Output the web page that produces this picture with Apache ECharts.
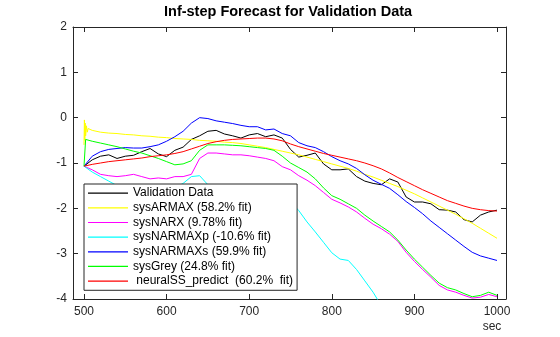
<!DOCTYPE html>
<html><head><meta charset="utf-8">
<script src="https://cdn.jsdelivr.net/npm/echarts@6/dist/echarts.min.js"></script>
<style>html,body{margin:0;padding:0;background:#fff}#c{width:560px;height:337px}</style>
</head><body><div id="c"></div><script>
// time grid (sec)
const t = [500,510,520,530,540,550,560,570,580,590,600,610,620,630,640,650,660,670,680,690,700,710,720,730,740,750,760,770,780,790,800,810,820,830,840,850,860,870,880,890,900,910,920,930,940,950,960,970,980,990,1000];
const xTicks = [500,600,700,800,900,1000];
const yTicks = [-4,-3,-2,-1,0,1,2];

const validation = [-1.07,-0.93,-0.85,-0.82,-0.9,-0.85,-0.83,-0.75,-0.68,-0.8,-0.86,-0.72,-0.65,-0.48,-0.4,-0.3,-0.28,-0.36,-0.4,-0.45,-0.38,-0.35,-0.42,-0.38,-0.45,-0.7,-0.87,-0.83,-0.78,-1.02,-1.15,-1.15,-1.13,-1.3,-1.4,-1.45,-1.48,-1.35,-1.42,-1.75,-1.86,-1.86,-1.9,-2.03,-2.04,-2.08,-2.25,-2.3,-2.15,-2.08,-2.04];
const armax = [-0.6,-0.28,-0.32,-0.34,-0.35,-0.37,-0.38,-0.4,-0.41,-0.43,-0.44,-0.46,-0.47,-0.48,-0.5,-0.51,-0.52,-0.54,-0.55,-0.57,-0.6,-0.63,-0.66,-0.7,-0.74,-0.78,-0.82,-0.87,-0.92,-0.97,-1.02,-1.07,-1.12,-1.18,-1.25,-1.31,-1.38,-1.45,-1.52,-1.6,-1.68,-1.77,-1.86,-1.95,-2.04,-2.13,-2.23,-2.33,-2.44,-2.55,-2.66];
const armaxOnsetT = [500.5,501,501.5,502,503,504,505];
const armaxOnsetV = [-0.05,-0.5,-0.12,-0.4,-0.18,-0.32,-0.24];
const narx = [-1.07,-1.15,-1.25,-1.28,-1.3,-1.28,-1.25,-1.3,-1.35,-1.33,-1.35,-1.3,-1.3,-1.25,-0.9,-0.78,-0.78,-0.8,-0.82,-0.82,-0.84,-0.87,-0.9,-0.95,-1.08,-1.15,-1.28,-1.38,-1.5,-1.65,-1.8,-1.88,-1.97,-2.08,-2.22,-2.35,-2.45,-2.57,-2.73,-2.97,-3.17,-3.35,-3.52,-3.7,-3.8,-3.85,-3.92,-3.98,-3.96,-3.9,-3.95];
const narmaxp = [-1.07,-1.2,-1.3,-1.4,-1.5,-1.58,-1.64,-1.68,-1.66,-1.62,-1.6,-1.55,-1.45,-1.3,-1.28,-1.48,-1.55,-1.56,-1.56,-1.57,-1.58,-1.62,-1.66,-1.72,-1.78,-1.85,-2.05,-2.3,-2.52,-2.75,-2.98,-3.12,-3.15,-3.35,-3.6,-3.85,-4.15,-4.45];
const narmaxs = [-1.07,-0.85,-0.75,-0.7,-0.68,-0.66,-0.67,-0.67,-0.64,-0.6,-0.52,-0.42,-0.3,-0.12,0.0,-0.02,-0.07,-0.1,-0.13,-0.17,-0.2,-0.2,-0.27,-0.25,-0.35,-0.4,-0.55,-0.62,-0.66,-0.75,-0.86,-0.95,-1.02,-1.12,-1.26,-1.38,-1.47,-1.56,-1.7,-1.85,-1.98,-2.12,-2.28,-2.42,-2.56,-2.7,-2.84,-2.97,-3.05,-3.1,-3.15];
const grey = [-1.07,-0.52,-0.56,-0.6,-0.64,-0.69,-0.74,-0.78,-0.84,-0.9,-0.97,-1.04,-1.02,-0.95,-0.72,-0.6,-0.6,-0.6,-0.61,-0.62,-0.64,-0.66,-0.68,-0.72,-0.85,-1.0,-1.1,-1.2,-1.35,-1.55,-1.72,-1.8,-1.9,-2.0,-2.15,-2.28,-2.4,-2.52,-2.7,-2.92,-3.12,-3.3,-3.48,-3.65,-3.75,-3.8,-3.88,-3.95,-3.92,-3.85,-3.92];
const greyOnsetT = [502];
const greyOnsetV = [-0.48];
const neuralSS = [-1.07,-1.03,-1.0,-0.97,-0.95,-0.93,-0.91,-0.89,-0.86,-0.84,-0.82,-0.79,-0.75,-0.69,-0.63,-0.57,-0.53,-0.5,-0.48,-0.47,-0.46,-0.45,-0.45,-0.47,-0.51,-0.58,-0.64,-0.69,-0.74,-0.79,-0.83,-0.87,-0.91,-0.95,-1.0,-1.06,-1.13,-1.22,-1.32,-1.41,-1.5,-1.59,-1.67,-1.75,-1.83,-1.89,-1.95,-2.0,-2.03,-2.05,-2.06];

const names = ['Validation Data','sysARMAX (58.2% fit)','sysNARX (9.78% fit)','sysNARMAXp (-10.6% fit)','sysNARMAXs (59.9% fit)','sysGrey (24.8% fit)',' neuralSS_predict  (60.2%  fit)'];
const colors = ['#000000','#ffff00','#ff00ff','#00ffff','#0000ff','#00ff00','#ff0000'];

function pairs(vals, onT, onV) {
  const p = vals.map((v, i) => [t[i], v]);
  if (onT) { onT.forEach((x, i) => p.push([x, onV[i]])); p.sort((a, b) => a[0] - b[0]); }
  return p;
}
const seriesData = [
  pairs(validation), pairs(armax, armaxOnsetT, armaxOnsetV), pairs(narx), pairs(narmaxp),
  pairs(narmaxs), pairs(grey, greyOnsetT, greyOnsetV), pairs(neuralSS)
];

const FF = '"Liberation Sans", Arial, sans-serif';
const axCol = '#262626';
const chart = echarts.init(document.getElementById('c'), null, {renderer: 'canvas'});
const xBase = {
  type: 'value', min: 486.7, max: 1010.9,
  axisLine: {show: true, onZero: false, lineStyle: {color: axCol, width: 1}},
  axisTick: {show: true, inside: true, length: 5, customValues: xTicks, lineStyle: {color: axCol}},
  splitLine: {show: false}
};
const yBase = {
  type: 'value', min: -4, max: 2, interval: 1,
  axisLine: {show: true, onZero: false, lineStyle: {color: axCol, width: 1}},
  axisTick: {show: true, inside: true, length: 5, lineStyle: {color: axCol}},
  splitLine: {show: false}
};
chart.setOption({
  animation: false,
  backgroundColor: '#ffffff',
  title: {
    text: 'Inf-step Forecast for Validation Data', left: 164, top: 4, padding: 0,
    textStyle: {fontFamily: FF, fontSize: 14.5, fontWeight: 'bold', color: '#000000'}
  },
  grid: {left: 73, top: 27, width: 433, height: 272, containLabel: false},
  legend: {
    orient: 'vertical', left: 84, top: 184, padding: [2, 4, 2, 4],
    icon: 'rect', itemWidth: 40, itemHeight: 1.2, itemGap: 0.33, selectedMode: false,
    backgroundColor: '#ffffff', borderColor: axCol, borderWidth: 1, borderRadius: 0,
    textStyle: {fontFamily: FF, fontSize: 12, color: '#000000', lineHeight: 14.33, padding: [0,0,0,0]},
    data: names
  },
  xAxis: [
    Object.assign({}, xBase, {
      position: 'bottom',
      axisLabel: {show: true, customValues: xTicks, formatter: v => String(v), color: axCol, fontFamily: FF, fontSize: 12, margin: 7},
      name: 'sec', nameLocation: 'end', nameGap: -14,
      nameTextStyle: {fontFamily: FF, fontSize: 12, color: axCol, align: 'center', verticalAlign: 'top', padding: [22, 0, 0, 0]}
    }),
    Object.assign({}, xBase, {position: 'top', axisLabel: {show: false}})
  ],
  yAxis: [
    Object.assign({}, yBase, {
      position: 'left',
      axisLabel: {show: true, color: axCol, fontFamily: FF, fontSize: 12, margin: 6}
    }),
    Object.assign({}, yBase, {position: 'right', axisLabel: {show: false}})
  ],
  series: names.map((n, i) => ({
    name: n, type: 'line', data: seriesData[i], xAxisIndex: 0, yAxisIndex: 0,
    symbol: 'none', showSymbol: false, clip: true,
    lineStyle: {color: colors[i], width: 1}, itemStyle: {color: colors[i]},
    emphasis: {disabled: true}
  }))
});
</script></body></html>
